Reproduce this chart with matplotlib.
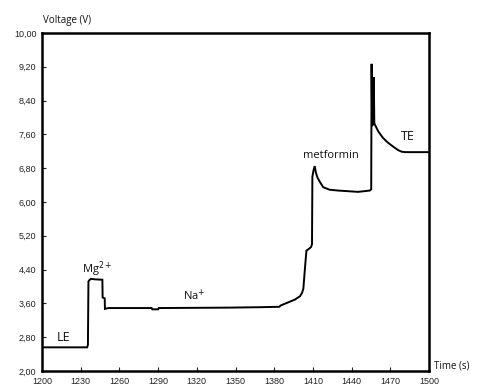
import matplotlib
matplotlib.use('Agg')
import numpy as np
import matplotlib.pyplot as plt
from matplotlib.ticker import FuncFormatter

# ---- data ----
time_s = [1200, 1235.0, 1235.6, 1236.0, 1237.0, 1238.0, 1241.0, 1246.8, 1247.0,
          1248.6, 1248.8, 1251.4, 1285.0, 1285.5, 1290.0, 1290.5, 1345.0, 1369.0,
          1384.0, 1385.0, 1389.7, 1396.0, 1400.0, 1401.6, 1402.6, 1403.5, 1404.4,
          1405.0, 1406.4, 1408.5, 1409.3, 1409.6, 1410.5, 1411.4, 1412.3, 1413.5,
          1415.5, 1418.0, 1423.0, 1430.0, 1445.0, 1454.0, 1455.2, 1455.5, 1455.9,
          1456.8, 1457.2, 1457.6, 1460.7, 1464.0, 1467.2, 1470.5, 1473.6, 1476.0,
          1478.8, 1482.0, 1500]
voltage = [2.56, 2.56, 2.62, 4.12, 4.16, 4.18, 4.17, 4.16, 3.74,
           3.72, 3.47, 3.49, 3.49, 3.46, 3.46, 3.49, 3.50, 3.51,
           3.52, 3.55, 3.61, 3.69, 3.77, 3.85, 3.95, 4.30, 4.64,
           4.85, 4.88, 4.93, 5.00, 6.60, 6.75, 6.85, 6.70, 6.58,
           6.47, 6.35, 6.29, 6.27, 6.24, 6.27, 6.30, 9.27, 7.80,
           7.85, 8.95, 7.86, 7.67, 7.53, 7.43, 7.35, 7.28, 7.23,
           7.19, 7.18, 7.18]

x_ticks = [1200, 1230, 1260, 1290, 1320, 1350, 1380, 1410, 1440, 1470, 1500]
y_ticks = [2.00, 2.80, 3.60, 4.40, 5.20, 6.00, 6.80, 7.60, 8.40, 9.20, 10.00]

# zone labels: (text, time, voltage, size)
labels = [
    ('LE', 1217, 2.80, 9),
    ('Mg$^{2+}$', 1243, 4.42, 8),
    ('Na$^{+}$', 1318, 3.78, 8),
    ('metformin', 1424, 7.10, 8),
    ('TE', 1484, 7.55, 9),
]

fig = plt.figure(figsize=(4.8, 3.89), dpi=100)
ax = fig.add_axes([42 / 480, 1 - 371 / 389, (429 - 42) / 480, (371 - 33) / 389])

ax.plot(time_s, voltage, color='black', lw=1.4, solid_joinstyle='miter')

ax.set_xlim(1200, 1500)
ax.set_ylim(2, 10)
ax.set_xticks(x_ticks)
ax.set_yticks(y_ticks)
ax.yaxis.set_major_formatter(FuncFormatter(lambda v, p: f'{v:.2f}'.replace('.', ',')))
ax.tick_params(direction='in', length=3, width=0.8, labelsize=6.5, pad=4,
               colors='#222222')
for lab in ax.get_xticklabels() + ax.get_yticklabels():
    lab.set_family('Liberation Sans')
for sp in ax.spines.values():
    sp.set_linewidth(1.8)
    sp.set_color('black')

for txt, t, v, s in labels:
    ax.text(t, v, txt, ha='center', va='center', fontsize=s, family='Open Sans',
            color='#111111')

fig.text(43 / 480, 1 - 20 / 389, 'Voltage (V)', ha='left', va='center',
         fontsize=7, family='Open Sans', color='#111111')
fig.text(434 / 480, 1 - 366 / 389, 'Time (s)', ha='left', va='center',
         fontsize=7, family='Open Sans', color='#111111')

fig.savefig('out.png', dpi=100)
